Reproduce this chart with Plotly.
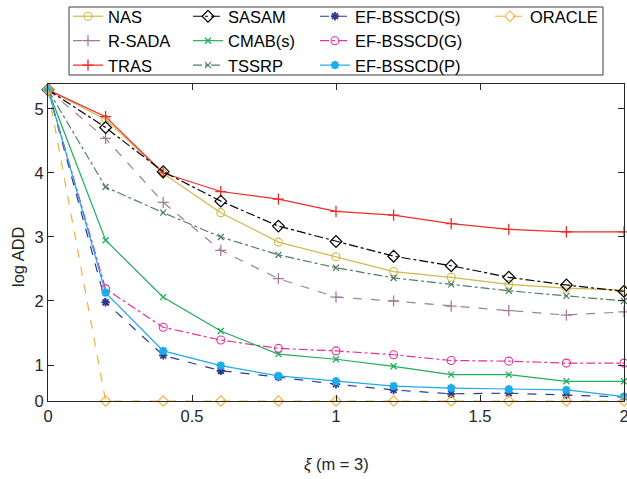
import plotly.graph_objects as go

xi = [0.0, 0.2, 0.4, 0.6, 0.8, 1.0, 1.2, 1.4, 1.6, 1.8, 2.0]

NAS      = [5.30, 4.84, 3.99, 3.38, 2.92, 2.69, 2.46, 2.37, 2.26, 2.20, 2.17]
SASAM    = [5.30, 4.71, 4.02, 3.56, 3.17, 2.93, 2.70, 2.55, 2.37, 2.25, 2.15]
EF_S     = [5.30, 1.98, 1.15, 0.91, 0.81, 0.70, 0.61, 0.55, 0.56, 0.53, 0.50]
ORACLE   = [5.30, 0.00, 0.00, 0.00, 0.00, 0.00, 0.00, 0.00, 0.00, 0.00, 0.00]
R_SADA   = [5.30, 4.54, 3.54, 2.79, 2.35, 2.06, 2.00, 1.92, 1.85, 1.78, 1.83]
CMAB     = [5.30, 2.95, 2.06, 1.53, 1.17, 1.09, 0.98, 0.85, 0.85, 0.745, 0.745]
EF_G     = [5.30, 2.19, 1.59, 1.39, 1.26, 1.22, 1.16, 1.07, 1.06, 1.03, 1.03]
TRAS     = [5.30, 4.88, 4.00, 3.71, 3.59, 3.40, 3.34, 3.21, 3.12, 3.08, 3.08]
TSSRP    = [5.30, 3.78, 3.38, 3.00, 2.72, 2.52, 2.36, 2.26, 2.16, 2.08, 2.00]
EF_P     = [5.30, 2.13, 1.22, 0.99, 0.83, 0.745, 0.67, 0.64, 0.62, 0.61, 0.505]

x_ticks = [0, 0.5, 1, 1.5, 2]
x_tick_labels = ["0", "0.5", "1", "1.5", "2"]
y_tick_labels = ["0", "1", "2", "3", "4", "5"]

# The reference y axis is broken: its lowest tick (labelled 0) sits at the bottom edge.
Y_FLOOR = 0.4375
Y_TOP = 5.39
y_ticks = [Y_FLOOR, 1, 2, 3, 4, 5]

def shown(vals):
    return [max(v, Y_FLOOR) for v in vals]

series = [
    # name, data, color, dash, symbol, msize, mlw, legend
    ("NAS", NAS, "#CDBA48", "solid", "circle-open", 8, 1.1, "legend"),
    ("R-SADA", R_SADA, "#A07D9C", "dash", "cross-thin-open", 8, 1.3, "legend"),
    ("TRAS", TRAS, "#EE2A2A", "solid", "cross-thin-open", 8, 1.3, "legend"),
    ("SASAM", SASAM, "#000000", "dashdot", "diamond-open", 9, 1.2, "legend2"),
    ("CMAB(s)", CMAB, "#1DAF5A", "solid", "x-thin-open", 6, 1.3, "legend2"),
    ("TSSRP", TSSRP, "#4E7F62", "dashdot", "x-thin-open", 6, 1.3, "legend2"),
    ("EF-BSSCD(S)", EF_S, "#2E3A8F", "dash", "asterisk-open", 7, 1.8, "legend3"),
    ("EF-BSSCD(G)", EF_G, "#E8309A", "dashdot", "circle-open", 8, 1.1, "legend3"),
    ("EF-BSSCD(P)", EF_P, "#1AACEB", "solid", "asterisk-open", 7, 2.4, "legend3"),
    ("ORACLE", ORACLE, "#F5B13C", "dash", "diamond-open", 8, 1.1, "legend4"),
]

fig = go.Figure()
for name, vals, color, dash, sym, ms, mlw, lg in series:
    fig.add_trace(go.Scatter(
        x=xi, y=shown(vals), name=name, mode="lines+markers",
        line=dict(color=color, width=1.2, dash=dash),
        marker=dict(symbol=sym, size=ms, color=color,
                    line=dict(color=color, width=mlw)),
        cliponaxis=False, legend=lg,
    ))

W, H = 627, 479
L, R, T, B = 48, 3, 84, 78
pw, ph = W - L - R, H - T - B

def px(xp):
    return (xp - L) / pw

def py(yp):
    return (H - B - yp) / ph

leg_font = dict(family="Liberation Sans, Arial, sans-serif", size=16.5, color="#000000")
common_leg = dict(font=leg_font, bgcolor="rgba(0,0,0,0)", borderwidth=0,
                  orientation="v", xanchor="left", yanchor="top",
                  itemwidth=30, tracegroupgap=0)
leg_top = py(-1)

fig.update_layout(
    width=W, height=H,
    margin=dict(l=L, r=R, t=T, b=B, pad=0, autoexpand=False),
    paper_bgcolor="white", plot_bgcolor="white",
    font=dict(family="Liberation Sans, Arial, sans-serif", size=16, color="#262626"),
    legend=dict(x=px(68), y=leg_top, **common_leg),
    legend2=dict(x=px(188), y=leg_top, **common_leg),
    legend3=dict(x=px(315), y=leg_top, **common_leg),
    legend4=dict(x=px(490), y=leg_top, **common_leg),
    xaxis=dict(range=[0, 2], tickvals=x_ticks, ticktext=x_tick_labels,
               ticks="inside", ticklen=6, tickwidth=1, tickcolor="#262626",
               showline=True, linecolor="#262626", linewidth=1, mirror="ticks",
               showgrid=False, zeroline=False, ticklabeloverflow="allow",
               tickfont=dict(size=16.5, color="#262626")),
    yaxis=dict(range=[Y_FLOOR, Y_TOP], tickvals=y_ticks, ticktext=y_tick_labels,
               ticks="inside", ticklen=6, tickwidth=1, tickcolor="#262626",
               showline=True, linecolor="#262626", linewidth=1, mirror="ticks",
               showgrid=False, zeroline=False, ticklabeloverflow="allow",
               tickfont=dict(size=16.5, color="#262626")),
    shapes=[dict(type="rect", xref="paper", yref="paper",
                 x0=px(69), x1=px(603), y0=py(75), y1=py(7),
                 line=dict(color="#3a3a3a", width=1), fillcolor="rgba(0,0,0,0)",
                 layer="above")],
    annotations=[
        dict(text="<i>ξ</i> (m = 3)", xref="paper", yref="paper",
             x=0.5, y=py(464), xanchor="center", yanchor="middle",
             showarrow=False, font=dict(size=16.5, color="#262626")),
        dict(text="log ADD", xref="paper", yref="paper",
             x=px(18), y=py(257), xanchor="center", yanchor="middle",
             textangle=-90, showarrow=False, font=dict(size=16.5, color="#262626")),
    ],
)

fig.write_html("out.html", config={"displayModeBar": False},
               post_script="document.body.style.margin='0';")
